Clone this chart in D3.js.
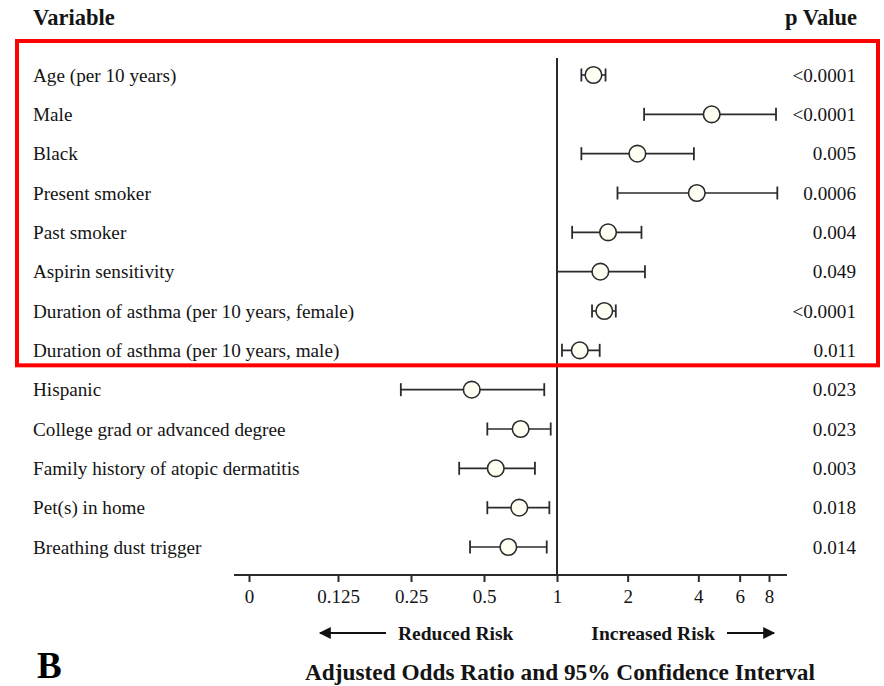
<!DOCTYPE html>
<html>
<head>
<meta charset="utf-8">
<script src="https://cdn.jsdelivr.net/npm/d3@7"></script>
<style>
  html, body { margin: 0; padding: 0; background: #fff; }
  svg { display: block; font-family: "Liberation Serif", "Times New Roman", serif; }
</style>
</head>
<body>
<svg id="chart" width="884" height="686"></svg>
<script>
// Risk factors, adjusted odds ratios and 95% CIs
const variables = [
  "Age (per 10 years)",
  "Male",
  "Black",
  "Present smoker",
  "Past smoker",
  "Aspirin sensitivity",
  "Duration of asthma (per 10 years, female)",
  "Duration of asthma (per 10 years, male)",
  "Hispanic",
  "College grad or advanced degree",
  "Family history of atopic dermatitis",
  "Pet(s) in home",
  "Breathing dust trigger"
];
const oddsRatio = [1.43, 4.56, 2.20, 3.94, 1.65, 1.53, 1.59, 1.25, 0.445, 0.708, 0.559, 0.699, 0.630];
const ciLower   = [1.27, 2.35, 1.27, 1.81, 1.16, 1.00, 1.41, 1.05, 0.227, 0.516, 0.395, 0.516, 0.438];
const ciUpper   = [1.61, 8.57, 3.83, 8.68, 2.29, 2.37, 1.78, 1.52, 0.886, 0.942, 0.811, 0.930, 0.907];
const pValues   = ["<0.0001", "<0.0001", "0.005", "0.0006", "0.004", "0.049", "<0.0001", "0.011",
                   "0.023", "0.023", "0.003", "0.018", "0.014"];
// Axis ticks; the smallest value stands in for the "0" break label
const tickValues = [1 / 32, 0.125, 0.25, 0.5, 1, 2, 4, 6, 8];
const tickLabels = ["0", "0.125", "0.25", "0.5", "1", "2", "4", "6", "8"];
const highlightedCount = 8;

const svg = d3.select("#chart");
const ink = "#2b2b2b";
const textInk = "#141414";
const bodySize = 19.2;

const x = d3.scaleLog()
  .domain([1 / 32, 0.125, 1, 8])
  .range([249, 338, 557, 769]);

const y = d3.scalePoint()
  .domain(d3.range(variables.length))
  .range([75, 547]);

const axisY = 575;

// Column headers
svg.append("text").attr("x", 33).attr("y", 25)
  .attr("font-weight", "bold").attr("font-size", 22.5).attr("fill", textInk)
  .text("Variable");
svg.append("text").attr("x", 857).attr("y", 25).attr("text-anchor", "end")
  .attr("font-weight", "bold").attr("font-size", 22.5).attr("fill", textInk)
  .text("p Value");

// Reference line at OR = 1
svg.append("line")
  .attr("x1", x(1)).attr("x2", x(1))
  .attr("y1", 58).attr("y2", axisY)
  .attr("stroke", ink).attr("stroke-width", 2);

// Variable labels and p values
svg.append("g").selectAll("text").data(variables).join("text")
  .attr("x", 33).attr("y", (d, i) => y(i)).attr("dy", "0.35em")
  .attr("font-size", bodySize).attr("fill", textInk)
  .text(d => d);
svg.append("g").selectAll("text").data(pValues).join("text")
  .attr("x", 856).attr("y", (d, i) => y(i)).attr("dy", "0.35em")
  .attr("text-anchor", "end")
  .attr("font-size", bodySize).attr("fill", textInk)
  .text(d => d);

// Confidence intervals with end caps
const rows = svg.append("g").selectAll("g").data(variables).join("g")
  .attr("transform", (d, i) => `translate(0,${y(i)})`);
rows.append("line")
  .attr("x1", (d, i) => x(ciLower[i])).attr("x2", (d, i) => x(ciUpper[i]))
  .attr("stroke", ink).attr("stroke-width", 1.6);
rows.append("line")
  .attr("x1", (d, i) => x(ciLower[i])).attr("x2", (d, i) => x(ciLower[i]))
  .attr("y1", -6.5).attr("y2", 6.5)
  .attr("stroke", ink).attr("stroke-width", 1.8);
rows.append("line")
  .attr("x1", (d, i) => x(ciUpper[i])).attr("x2", (d, i) => x(ciUpper[i]))
  .attr("y1", -6.5).attr("y2", 6.5)
  .attr("stroke", ink).attr("stroke-width", 1.8);
rows.append("circle")
  .attr("cx", (d, i) => x(oddsRatio[i])).attr("cy", 0).attr("r", 8.3)
  .attr("fill", "#fffff4").attr("stroke", ink).attr("stroke-width", 1.6);

// Highlight box around the first group of factors
const boxTop = y(0) - 34, boxBottom = y(highlightedCount - 1) + 15;
svg.append("rect")
  .attr("x", 17).attr("y", boxTop)
  .attr("width", 861).attr("height", boxBottom - boxTop)
  .attr("fill", "none").attr("stroke", "#ff0000").attr("stroke-width", 4);

// Horizontal axis
const axis = d3.axisBottom(x)
  .tickValues(tickValues)
  .tickFormat((d, i) => tickLabels[i])
  .tickSize(7)
  .tickPadding(8);
const gAxis = svg.append("g").attr("transform", `translate(0,${axisY})`).call(axis);
gAxis.select(".domain").remove();
gAxis.insert("line", ":first-child")
  .attr("x1", 234).attr("x2", 787)
  .attr("stroke", ink).attr("stroke-width", 2);
gAxis.selectAll(".tick line").attr("stroke", ink).attr("stroke-width", 2);
gAxis.selectAll(".tick text")
  .attr("font-family", "Liberation Serif, serif")
  .attr("font-size", 19).attr("fill", textInk);

// Direction labels with arrows
const defs = svg.append("defs");
defs.append("marker").attr("id", "arrowhead")
  .attr("viewBox", "0 0 10 10").attr("refX", 9).attr("refY", 5)
  .attr("markerWidth", 15).attr("markerHeight", 12)
  .attr("markerUnits", "userSpaceOnUse").attr("orient", "auto")
  .append("path").attr("d", "M0,0 L10,5 L0,10 Z").attr("fill", "#111");

const dirY = 633;
svg.append("line").attr("x1", 386).attr("x2", 320).attr("y1", dirY).attr("y2", dirY)
  .attr("stroke", "#111").attr("stroke-width", 2).attr("marker-end", "url(#arrowhead)");
svg.append("text").attr("x", 398).attr("y", dirY).attr("dy", "0.35em")
  .attr("font-weight", "bold").attr("font-size", 19.5).attr("fill", textInk)
  .text("Reduced Risk");
svg.append("text").attr("x", 715).attr("y", dirY).attr("dy", "0.35em")
  .attr("text-anchor", "end")
  .attr("font-weight", "bold").attr("font-size", 19.5).attr("fill", textInk)
  .text("Increased Risk");
svg.append("line").attr("x1", 727).attr("x2", 774).attr("y1", dirY).attr("y2", dirY)
  .attr("stroke", "#111").attr("stroke-width", 2).attr("marker-end", "url(#arrowhead)");

// Axis title
svg.append("text").attr("x", 560).attr("y", 680).attr("text-anchor", "middle")
  .attr("font-weight", "bold").attr("font-size", 23.3).attr("fill", textInk)
  .text("Adjusted Odds Ratio and 95% Confidence Interval");

// Panel letter
svg.append("text").attr("x", 37).attr("y", 678)
  .attr("font-weight", "bold").attr("font-size", 37).attr("fill", "#000")
  .text("B");
</script>
</body>
</html>
